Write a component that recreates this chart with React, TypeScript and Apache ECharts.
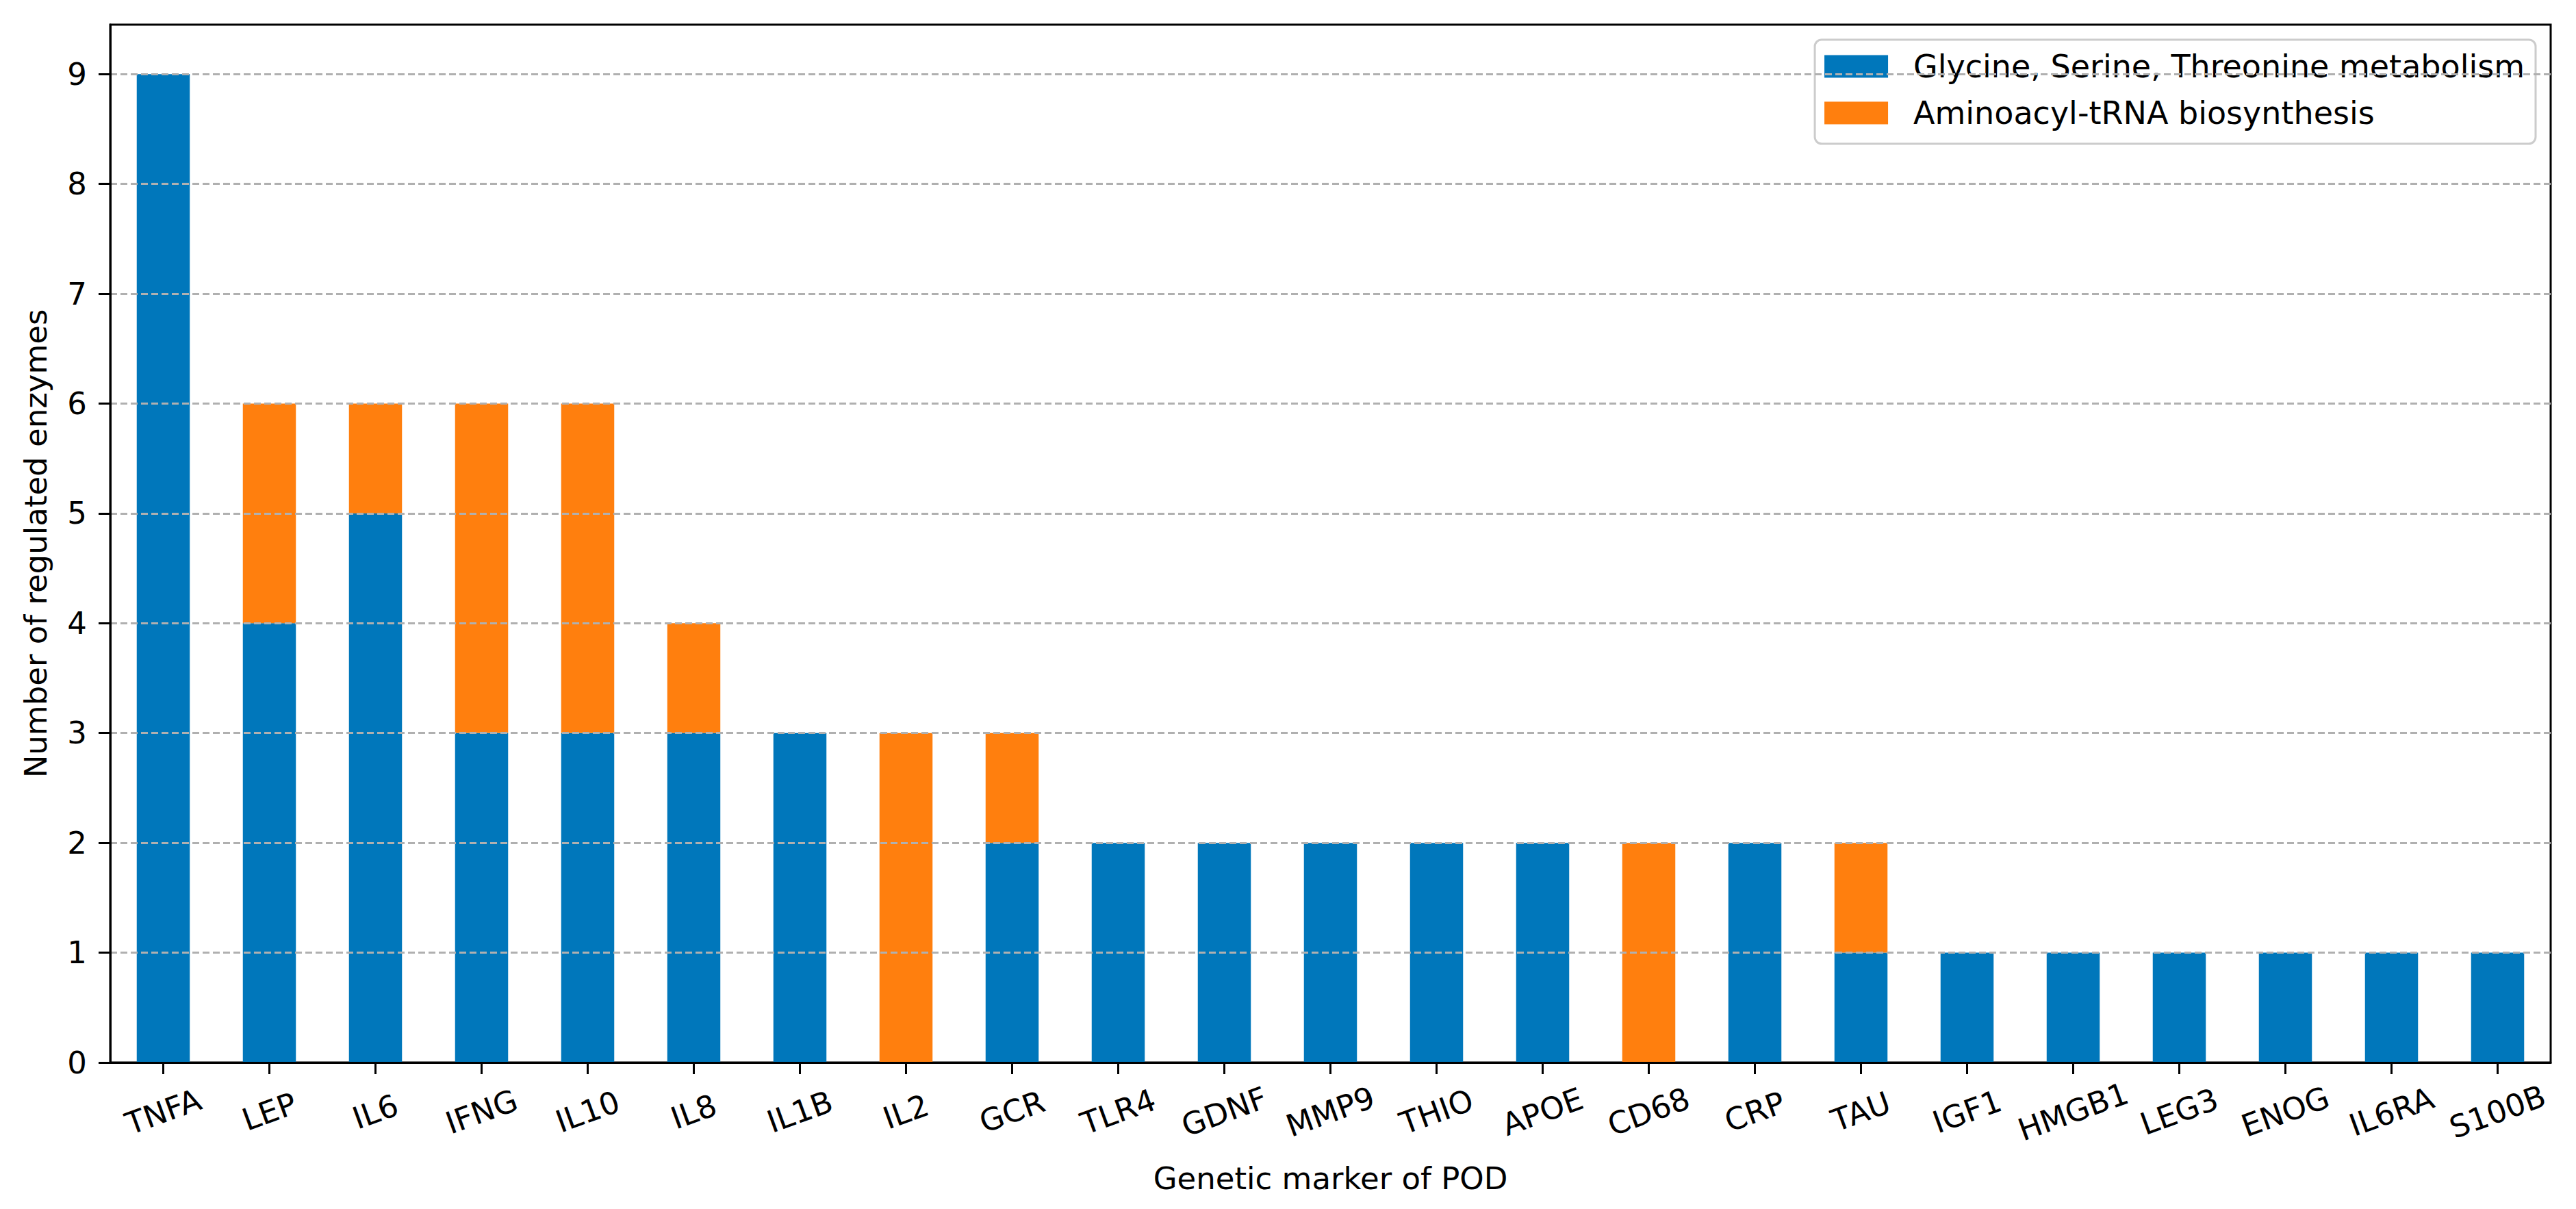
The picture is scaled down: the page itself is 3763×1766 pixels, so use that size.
import React, { useEffect, useRef } from "react";
import * as echarts from "echarts";

const categories = [
  "TNFA", "LEP", "IL6", "IFNG", "IL10", "IL8", "IL1B", "IL2", "GCR", "TLR4", "GDNF", "MMP9",
  "THIO", "APOE", "CD68", "CRP", "TAU", "IGF1", "HMGB1", "LEG3", "ENOG", "IL6RA", "S100B",
];
const glycineValues = [9, 4, 5, 3, 3, 3, 3, 0, 2, 2, 2, 2, 2, 2, 0, 2, 1, 1, 1, 1, 1, 1, 1];
const aminoacylValues = [0, 2, 1, 3, 3, 1, 0, 3, 1, 0, 0, 0, 0, 0, 2, 0, 1, 0, 0, 0, 0, 0, 0];
const yTickValues = [0, 1, 2, 3, 4, 5, 6, 7, 8, 9];
const seriesNames = ["Glycine, Serine, Threonine metabolism", "Aminoacyl-tRNA biosynthesis"];

const FONT = "DejaVu Sans";
const FS = 45;

export default function App() {
  const ref = useRef<HTMLDivElement>(null);
  useEffect(() => {
    document.body.style.margin = "0";
    if (!ref.current) return;
    const chart = echarts.init(ref.current, undefined, { renderer: "svg" });
    chart.setOption({
      animation: false,
      backgroundColor: "#ffffff",
      grid: {
        left: 161,
        right: 37,
        top: 36,
        bottom: 214,
        show: true,
        borderColor: "#000000",
        borderWidth: 3,
        backgroundColor: "transparent",
      },
      legend: {
        orient: "vertical",
        right: 59,
        top: 58,
        icon: "rect",
        itemWidth: 93,
        itemHeight: 33,
        itemGap: 22,
        padding: [16, 16, 22, 14],
        backgroundColor: "rgba(255,255,255,0.8)",
        borderColor: "#cccccc",
        borderWidth: 3,
        borderRadius: 10,
        selectedMode: false,
        textStyle: {
          fontFamily: FONT,
          fontSize: 46,
          lineHeight: 45,
          color: "#000000",
          padding: [0, 0, 0, 32],
        },
        data: seriesNames,
      },
      xAxis: {
        type: "category",
        data: categories,
        boundaryGap: true,
        z: 10,
        axisLine: { show: true, lineStyle: { color: "#000000", width: 3 } },
        axisTick: {
          show: true,
          alignWithLabel: true,
          length: 17,
          lineStyle: { color: "#000000", width: 3 },
        },
        axisLabel: {
          interval: 0,
          rotate: 20,
          align: "center",
          verticalAlign: "middle",
          margin: 72,
          fontFamily: FONT,
          fontSize: FS,
          color: "#000000",
        },
        name: "Genetic marker of POD",
        nameLocation: "middle",
        nameGap: 147,
        nameTextStyle: { fontFamily: FONT, fontSize: FS, color: "#000000", lineHeight: 45 },
        splitLine: { show: false },
      },
      yAxis: {
        type: "value",
        min: 0,
        max: 9.45,
        interval: 1,
        z: 10,
        axisLine: { show: true, lineStyle: { color: "#000000", width: 3 } },
        axisTick: {
          show: true,
          length: 17,
          customValues: yTickValues,
          lineStyle: { color: "#000000", width: 3 },
        },
        axisLabel: {
          customValues: yTickValues,
          margin: 34,
          fontFamily: FONT,
          fontSize: FS,
          color: "#000000",
          formatter: (v: number) => (Number.isInteger(v) ? String(v) : ""),
        },
        splitLine: {
          show: true,
          lineStyle: { color: "#b0b0b0", width: 3, type: [10, 5] },
        },
        name: "Number of regulated enzymes",
        nameLocation: "middle",
        nameGap: 86,
        nameTextStyle: { fontFamily: FONT, fontSize: FS, color: "#000000", lineHeight: 45 },
      },
      series: [
        {
          name: seriesNames[0],
          type: "bar",
          stack: "total",
          barWidth: "50%",
          itemStyle: { color: "#0077bb" },
          data: glycineValues,
        },
        {
          name: seriesNames[1],
          type: "bar",
          stack: "total",
          barWidth: "50%",
          itemStyle: { color: "#ff7f0e" },
          data: aminoacylValues,
        },
      ],
    });
    return () => chart.dispose();
  }, []);
  return <div ref={ref} style={{ width: 3763, height: 1766 }} />;
}
